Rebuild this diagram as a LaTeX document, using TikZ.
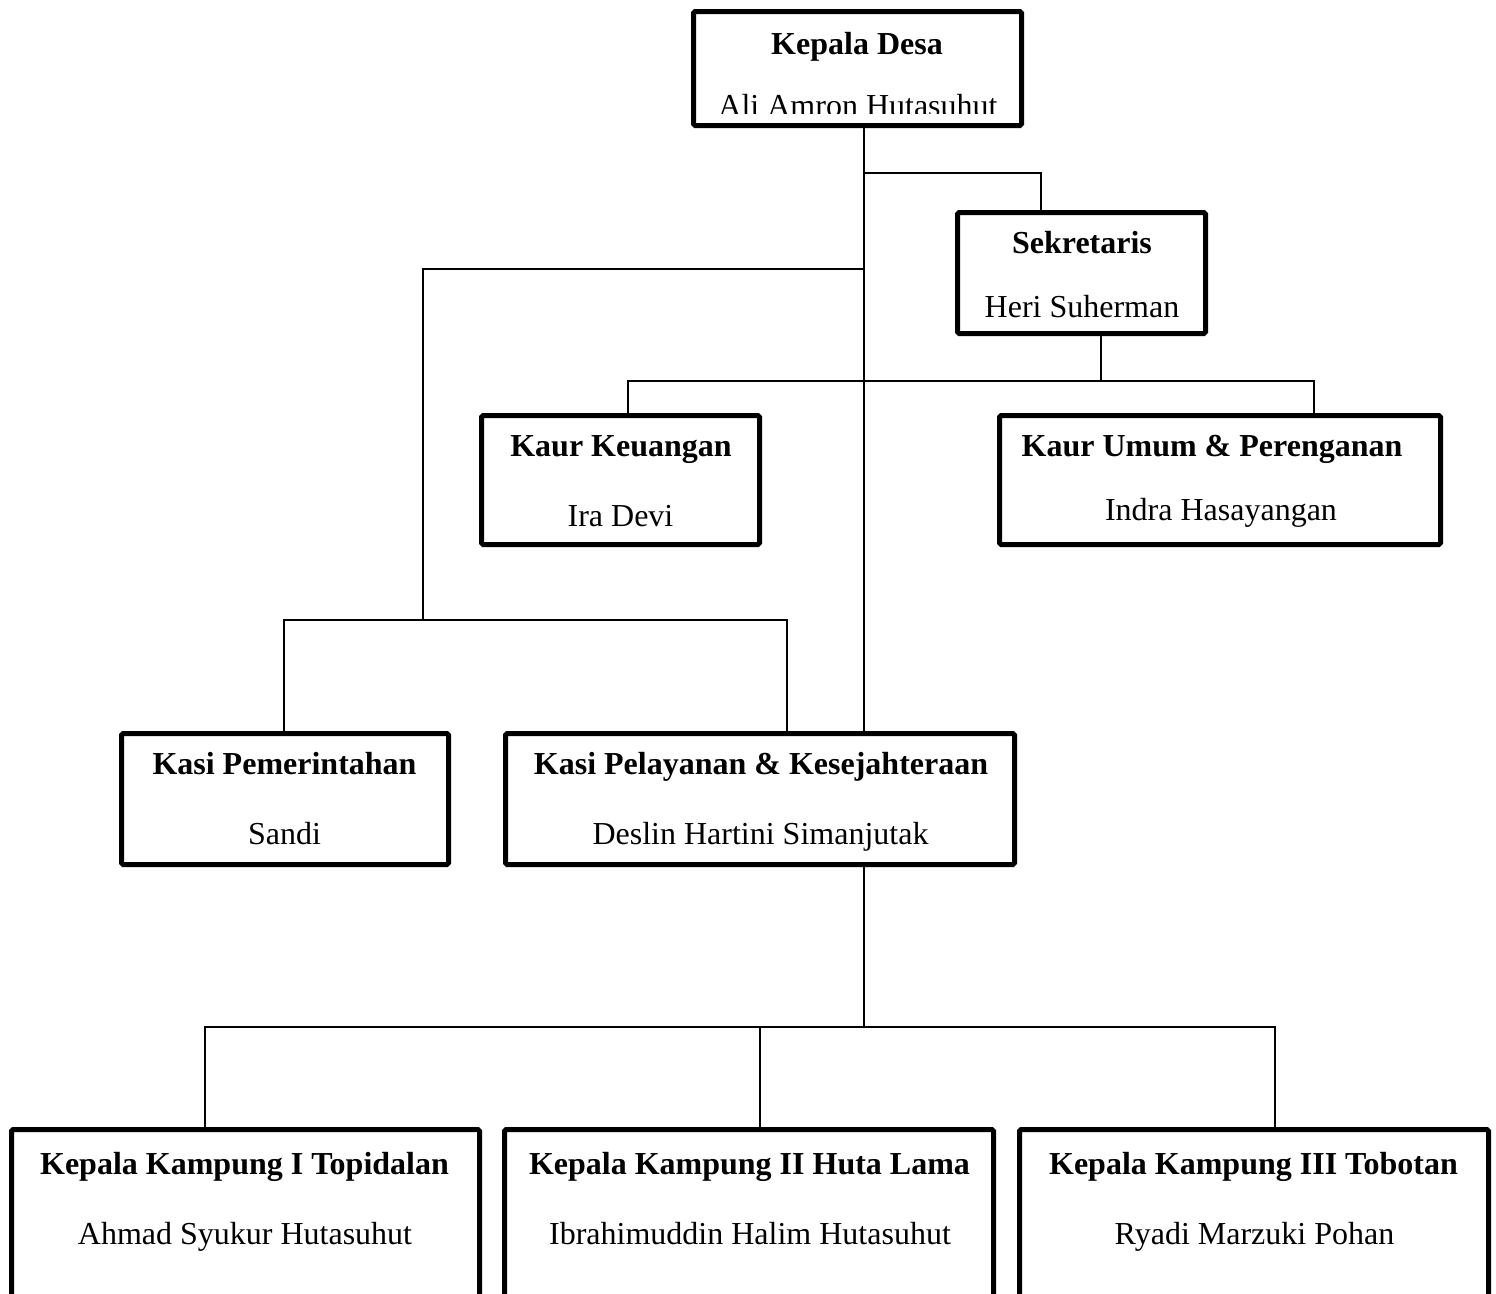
\documentclass[tikz,border=0pt]{standalone}
\usepackage{fontspec}
\setmainfont{Liberation Serif}
\begin{document}
\begin{tikzpicture}[x=0.75pt,y=-0.75pt,
  box/.style 2 args={draw=black, line width=3.75pt, rounded corners=1.2pt, fill=none,
    minimum width=#1*0.75pt-3.75pt, minimum height=#2*0.75pt-3.75pt, inner sep=0pt},
  ttl/.style={anchor=base, inner sep=0pt, font=\fontsize{24pt}{28pt}\selectfont\bfseries},
  nm/.style={anchor=base, inner sep=0pt, font=\fontsize{24pt}{28pt}\selectfont},
  conn/.style={draw=black, line width=1.5pt, line cap=rect}]
\useasboundingbox (0,0) rectangle (1496,1293);

% texts
\node[ttl] (kdt) at (857,54) {Kepala Desa};
\begin{scope}
  \clip (700,60) rectangle (1015,113.5);
  \node[nm] (kdn) at (858,116) {Ali Amron Hutasuhut};
\end{scope}
\node[ttl] (sekt) at (1082,253) {Sekretaris};
\node[nm] (sekn) at (1082,317) {Heri Suherman};
\node[ttl] (kkt) at (621,456) {Kaur Keuangan};
\node[nm] (kkn) at (620.5,526) {Ira Devi};
\node[ttl] (kut) at (1212,456) {Kaur Umum \& Perenganan};
\node[nm] (kun) at (1221,520) {Indra Hasayangan};
\node[ttl] (kpt) at (284.5,774) {Kasi Pemerintahan};
\node[nm] (kpn) at (284.5,844) {Sandi};
\node[ttl] (kpkt) at (761,774) {Kasi Pelayanan \& Kesejahteraan};
\node[nm] (kpkn) at (760.5,844) {Deslin Hartini Simanjutak};
\node[ttl] (k1t) at (244.5,1174) {Kepala Kampung I Topidalan};
\node[nm] (k1n) at (245,1244) {Ahmad Syukur Hutasuhut};
\node[ttl] (k2t) at (749.5,1174) {Kepala Kampung II Huta Lama};
\node[nm] (k2n) at (750,1244) {Ibrahimuddin Halim Hutasuhut};
\node[ttl] (k3t) at (1253.5,1174) {Kepala Kampung III Tobotan};
\node[nm] (k3n) at (1254.5,1244) {Ryadi Marzuki Pohan};

% boxes
\node[box={333}{119}] (kd) at (857.5,68.5) {};
\node[box={253}{126}] (sek) at (1081.5,273) {};
\node[box={283}{134}] (kk) at (620.5,480) {};
\node[box={446}{134}] (ku) at (1220,480) {};
\node[box={332}{136}] (kp) at (285,799) {};
\node[box={514}{136}] (kpk) at (760,799) {};
\node[box={473}{273}] (k1) at (245.5,1263.5) {};
\node[box={494}{273}] (k2) at (749,1263.5) {};
\node[box={474}{273}] (k3) at (1254,1263.5) {};

% junctions
\coordinate (t1) at (864,173);
\coordinate (t2) at (864,269);
\coordinate (s1) at (1041,173);
\coordinate (s2) at (1101,381);
\coordinate (h1) at (628,381);
\coordinate (h2) at (1314,381);
\coordinate (l1) at (423,269);
\coordinate (l2) at (423,620);
\coordinate (l3) at (284,620);
\coordinate (l4) at (787,620);
\coordinate (b0) at (864,1027);
\coordinate (b1) at (205,1027);
\coordinate (b2) at (760,1027);
\coordinate (b3) at (1275,1027);

% connectors
\draw[conn] (kd.south -| t1) -- (kpk.north -| t1);
\draw[conn] (t1) -- (s1) -- (s1 |- sek.north);
\draw[conn] (sek.south -| s2) -- (s2);
\draw[conn] (h1 |- kk.north) -- (h1) -- (h2) -- (h2 |- ku.north);
\draw[conn] (t2) -- (l1) -- (l2);
\draw[conn] (l3 |- kp.north) -- (l3) -- (l4) -- (l4 |- kpk.north);
\draw[conn] (kpk.south -| b0) -- (b0);
\draw[conn] (b1 |- k1.north) -- (b1) -- (b3) -- (b3 |- k3.north);
\draw[conn] (b2) -- (b2 |- k2.north);
\end{tikzpicture}
\end{document}
